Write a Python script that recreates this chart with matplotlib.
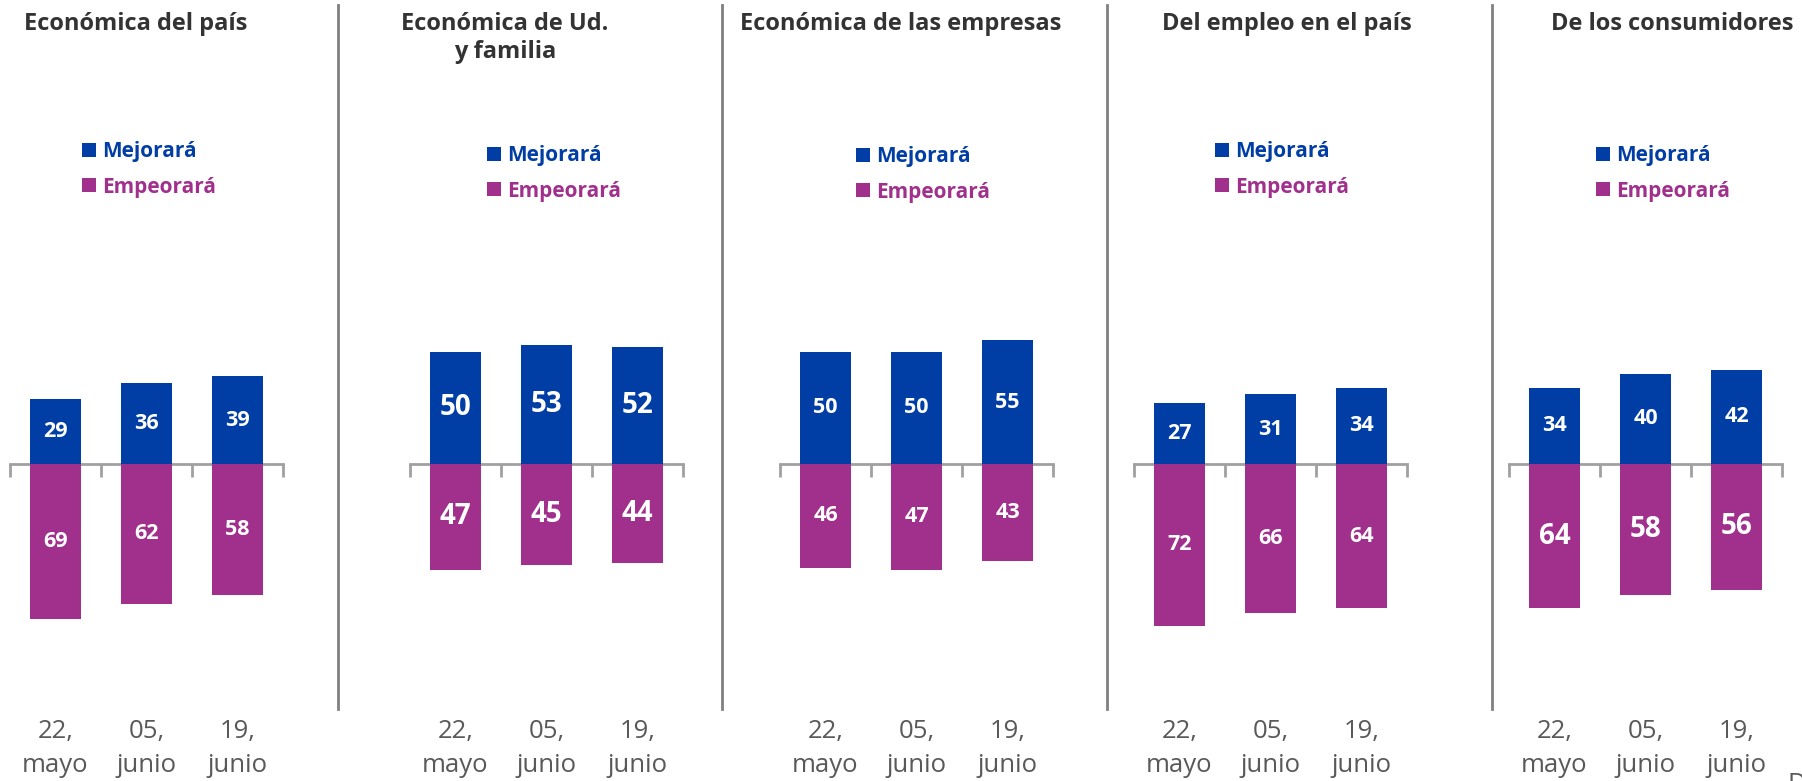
import numpy as np
import matplotlib
matplotlib.use("Agg")
import matplotlib.pyplot as plt
from matplotlib.lines import Line2D
from matplotlib.patches import Patch
import matplotlib.transforms as mtransforms

plt.rcParams['font.family'] = ['Open Sans', 'DejaVu Sans']

# datos
titulos = ["Económica del país", "Económica de Ud.\ny familia", "Económica de las empresas",
           "Del empleo en el país", "De los consumidores"]
fechas_dia = ["22,", "05,", "19,"]
fechas_mes = ["mayo", "junio", "junio"]
series = ["Mejorará", "Empeorará"]
mejorara = [[29, 36, 39], [50, 53, 52], [50, 50, 55], [27, 31, 34], [34, 40, 42]]
empeorara = [[69, 62, 58], [47, 45, 44], [46, 47, 43], [72, 66, 64], [64, 58, 56]]

AZUL = "#003DA5"
MORADO = "#A0308C"
GRIS = "#A0A0A0"

W, H = 1802, 781
fig = plt.figure(figsize=(W / 100, H / 100), dpi=100)

def fx(px):
    return px / W

def fy(py):
    return 1 - py / H

# posiciones en pixeles (izq, der) de cada panel
paneles = [(10, 283), (410, 683), (780, 1053), (1134, 1407), (1509, 1782)]
titulo_x = [136, 505, 901, 1287, 1672]
leyenda_pos = [(82, 148), (487, 152), (856, 153), (1215, 148), (1596, 152)]
tam_pos = [15.5, 20, 15.5, 15.5, 15.5]
tam_neg = [15.5, 20, 15.5, 15.5, 20]
divisores = [338, 722, 1107, 1492]

cero_y = 464
px_por_unidad = 2.25
alto = 100 * px_por_unidad

x = np.arange(3)
for i, (x0, x1) in enumerate(paneles):
    ax = fig.add_axes([fx(x0), fy(cero_y + alto), fx(x1 - x0), 2 * alto / H])
    ax.set_xlim(-0.5, 2.5)
    ax.set_ylim(-100, 100)
    ax.bar(x, mejorara[i], width=0.56, color=AZUL)
    ax.bar(x, [-v for v in empeorara[i]], width=0.56, color=MORADO)
    for j in range(3):
        ax.text(x[j], mejorara[i][j] / 2, str(mejorara[i][j]), ha='center', va='center',
                color='white', fontsize=tam_pos[i], fontweight='bold')
        ax.text(x[j], -empeorara[i][j] / 2, str(empeorara[i][j]), ha='center', va='center',
                color='white', fontsize=tam_neg[i], fontweight='bold')
    for s in ['top', 'left', 'right']:
        ax.spines[s].set_visible(False)
    ax.spines['bottom'].set_position(('data', 0))
    ax.spines['bottom'].set_color(GRIS)
    ax.spines['bottom'].set_linewidth(2)
    ax.spines['bottom'].set_zorder(0.5)
    ax.set_yticks([])
    ax.set_xticks([-0.5, 0.5, 1.5, 2.5])
    ax.set_xticklabels([])
    ax.tick_params(axis='x', direction='out', length=9, width=2, color=GRIS)
    ax.patch.set_alpha(0)

    # fechas bajo el eje
    tr = mtransforms.blended_transform_factory(ax.transData, fig.transFigure)
    for j in range(3):
        ax.text(x[j], fy(738), fechas_dia[j], transform=tr, ha='center', va='baseline',
                fontsize=18.5, color='#595959', clip_on=False)
        ax.text(x[j], fy(772), fechas_mes[j], transform=tr, ha='center', va='baseline',
                fontsize=18.5, color='#595959', clip_on=False)

    # titulo
    lineas = titulos[i].split("\n")
    for k, linea in enumerate(lineas):
        fig.text(fx(titulo_x[i]), fy(30 + 28 * k), linea, ha='center', va='baseline',
                 fontsize=17, fontweight='bold', color='#333333')

    # leyenda
    lx, ly = leyenda_pos[i]
    handles = [Patch(facecolor=AZUL), Patch(facecolor=MORADO)]
    leg = fig.legend(handles, series, loc='upper left',
                     bbox_to_anchor=(fx(lx), fy(ly - 7)), bbox_transform=fig.transFigure,
                     frameon=False, borderpad=0, borderaxespad=0, handlelength=0.67,
                     handleheight=0.67, handletextpad=0.3, labelspacing=0.7,
                     prop={'size': 15, 'weight': 'bold'})
    for t, c in zip(leg.get_texts(), [AZUL, MORADO]):
        t.set_color(c)

# lineas divisorias
for d in divisores:
    fig.add_artist(Line2D([fx(d), fx(d)], [fy(5), fy(709)], color='#808080', linewidth=2))

fig.text(fx(1788), fy(772), "De", ha='left', va='top', fontsize=18.5, color='#595959')

fig.savefig("out.png", dpi=100)
